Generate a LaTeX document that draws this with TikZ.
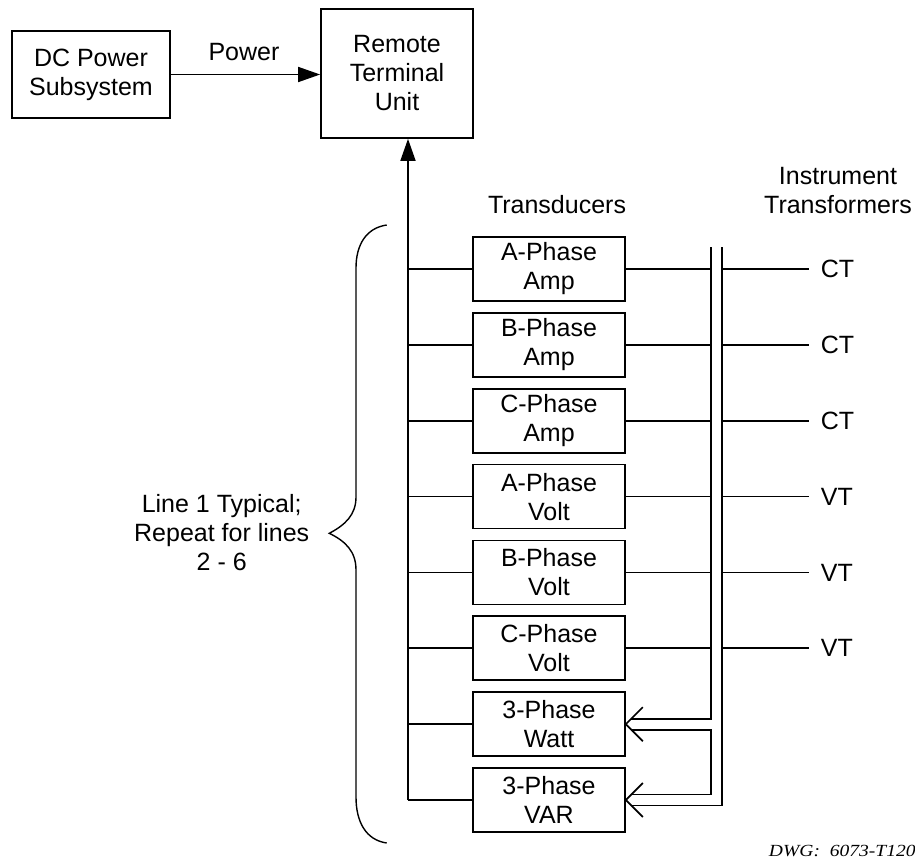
\documentclass[tikz,border=0pt]{standalone}
\usepackage{fontspec}
\setmainfont{Liberation Sans}
\newfontfamily\dwgfont{Liberation Serif}
\usetikzlibrary{arrows.meta,calc}
\begin{document}
\begin{tikzpicture}[x=1pt,y=-1pt,line width=1.7pt,
  box/.style={draw,minimum width=152pt,minimum height=64pt,align=center,inner sep=0pt,font=\fontsize{25}{29}\selectfont},
  lbl/.style={align=center,inner sep=0pt,font=\fontsize{25}{29}\selectfont},
  tip/.style={-{Triangle[length=22pt,width=15pt]}}]
\useasboundingbox (0,0) rectangle (915,862);
\fill[white] (0,0) rectangle (915,862);

% top row
\node[box,minimum width=158pt,minimum height=87pt] (dc) at (91,74.5) {DC Power\\Subsystem};
\node[box,minimum height=129pt] (rtu) at (397,73.5) {Remote\\Terminal\\Unit};
\draw[tip] (dc.east) -- (dc.east -| rtu.west);
\node[lbl] (pw) at (244,52) {Power};

% transducers
\foreach \n/\a/\b [count=\i from 0] in {t1/A-Phase/Amp,t2/B-Phase/Amp,t3/C-Phase/Amp,t4/A-Phase/Volt,t5/B-Phase/Volt,t6/C-Phase/Volt,t7/3-Phase/Watt,t8/3-Phase/VAR}
  \node[box] (\n) at (549,{269+75.86*\i}) {\a\\\b};

% left collector line to RTU
\coordinate (lb) at (408,800);
\draw[tip] (lb) -- (lb |- rtu.south);
\foreach \t in {t1,t2,t3,t4,t5,t6,t7,t8}
  \draw (\t.west) -- (\t.west -| lb);

% buses
\coordinate (bl) at (711,247);
\coordinate (br) at (722,247);
\foreach \t/\x in {t1/CT,t2/CT,t3/CT,t4/VT,t5/VT,t6/VT}{
  \draw (\t.east) -- (\t.east -| bl);
  \node[lbl,anchor=west] (x\t) at ($(\t.east -| br)+(98,0)$) {\x};
  \draw (\t.east -| br) -- ([xshift=-11pt]x\t.west);
}

% double-line arrows into Watt and VAR
\coordinate (w) at (t7.east);
\coordinate (v) at (t8.east);
\coordinate (vb) at (v -| bl);
\draw (bl) |- ($(w)+(5.5,-5.5)$);
\draw ($(w)+(5.5,5.5)$) -| ($(vb)+(0,-5.5)$) -- ($(v)+(5.5,-5.5)$);
\draw (br) |- ($(v)+(5.5,5.5)$);
\draw ($(w)+(17,-17)$) -- (w) -- ($(w)+(17,17)$);
\draw ($(v)+(17,-17)$) -- (v) -- ($(v)+(17,17)$);

% brace
\draw[line width=1.4pt] (386.7,225) .. controls (366,228) and (356,245) .. (356,268)
  -- (356,497) .. controls (356,515) and (345,525) .. (329.3,533.3)
  .. controls (345,541) and (356,551) .. (356,570)
  -- (356,797) .. controls (356,822) and (366,840) .. (386.7,843);

% labels
\node[lbl] (tr) at (557,204.4) {Transducers};
\node[lbl] (it) at (838,190.7) {Instrument\\Transformers};
\node[lbl] (l1) at (221.7,532.7) {Line 1 Typical;\\Repeat for lines\\2 - 6};
\node[anchor=base west,inner sep=0pt,font=\dwgfont\itshape\fontsize{17}{19}\selectfont,xscale=1.15] (dwg) at (768,856.7) {DWG:\ \ 6073-T120};
\end{tikzpicture}
\end{document}
